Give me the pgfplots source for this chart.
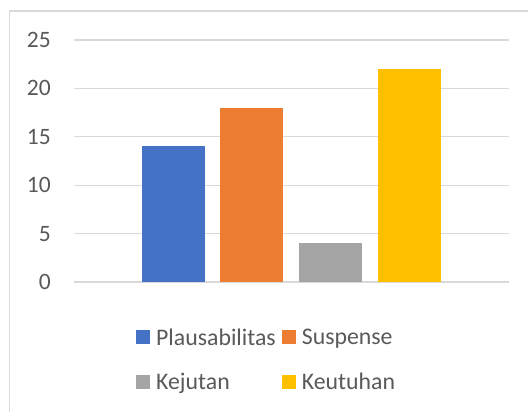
\documentclass[border=0pt]{standalone}
\usepackage{fontspec}
\setmainfont{Carlito}
\usepackage{pgfplots}
\pgfplotsset{compat=1.18}
\definecolor{cblue}{HTML}{4472C4}
\definecolor{corange}{HTML}{ED7D31}
\definecolor{cgray}{HTML}{A5A5A5}
\definecolor{cyellow}{HTML}{FFC000}
\definecolor{gridgray}{HTML}{D9D9D9}
\definecolor{textgray}{HTML}{595959}
\begin{document}
\begin{tikzpicture}[x=1bp,y=1bp]
\path[use as bounding box] (0,0) rectangle (528,-412);
\draw[color=gridgray, line width=1.3bp] (9.5,-412) -- (9.5,-11) -- (528,-11);
\begin{axis}[
  at={(74bp,-282bp)}, anchor=south west,
  scale only axis, width=435bp, height=242bp,
  xmin=74, xmax=509, ymin=0, ymax=25,
  ytick={0,5,10,15,20,25}, xtick=\empty,
  axis line style={draw=none},
  ymajorgrids, grid style={gridgray, line width=1.3bp},
  major tick length=0pt,
  /pgf/number format/assume math mode=true,
  yticklabel style={font=\fontsize{23.5bp}{27bp}\selectfont, text=textgray, anchor=east, inner sep=0pt, xshift=-23bp},
  legend columns=2,
  legend style={draw=none, fill=none, inner sep=0pt, font=\fontsize{23.8bp}{27bp}\selectfont, text=textgray,
    at={(axis description cs:0.1425,-0.193)}, anchor=north west,
    /tikz/every even column/.append style={column sep=6bp},
    row sep=28bp,
    nodes={inner sep=0pt, text depth=0pt, anchor=west}},
  legend image code/.code={\fill[#1,draw=none] (0bp,-7bp) rectangle (14bp,7bp); \path (20bp,0bp);},
]
\addplot[ybar, bar shift=0pt, bar width=63, fill=cblue, draw=none] coordinates {(173.5,14)};
\addlegendentry{Plausabilitas}
\addplot[ybar, bar shift=0pt, bar width=63, fill=corange, draw=none] coordinates {(251.5,18)};
\addlegendentry{Suspense}
\addplot[ybar, bar shift=0pt, bar width=63, fill=cgray, draw=none] coordinates {(330.5,4)};
\addlegendentry{Kejutan}
\addplot[ybar, bar shift=0pt, bar width=63, fill=cyellow, draw=none] coordinates {(409.5,22)};
\addlegendentry{Keutuhan}
\end{axis}
\end{tikzpicture}
\end{document}
